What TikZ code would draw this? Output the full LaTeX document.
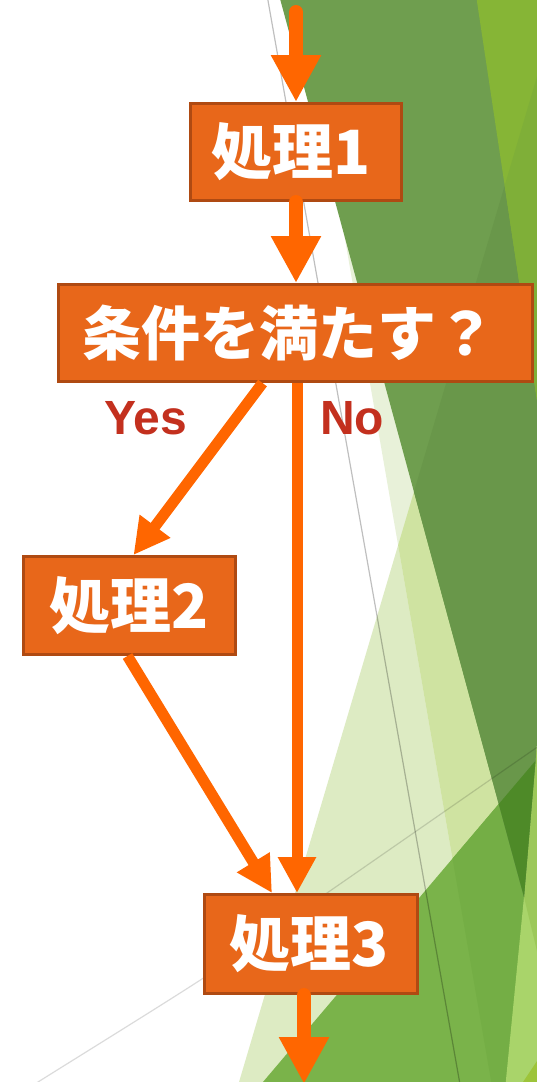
\documentclass[tikz,border=0pt]{standalone}
\usepackage{fontspec}
\newfontfamily\jpfont{Noto Sans CJK JP}
\newfontfamily\ynfont{Liberation Sans}
\usetikzlibrary{arrows.meta}
\definecolor{boxfill}{HTML}{E8671A}
\definecolor{boxborder}{HTML}{AF4A12}
\definecolor{arrowc}{HTML}{FF6600}
\definecolor{lblc}{HTML}{C3301E}
\definecolor{paleA}{HTML}{DDEBC3}
\definecolor{paleB}{HTML}{E8F1D9}
\definecolor{paleAB}{HTML}{CFE3A1}
\definecolor{midg}{HTML}{7AB34A}
\definecolor{midgB}{HTML}{74AE45}
\definecolor{darkg}{HTML}{6F9E4F}
\definecolor{darkgA}{HTML}{69974A}
\definecolor{darkgM}{HTML}{4E8A28}
\definecolor{limeT}{HTML}{86B536}
\definecolor{limeTA}{HTML}{7FAF38}
\definecolor{limeR}{HTML}{A9D46A}
\definecolor{limeRU}{HTML}{9CC85A}
\definecolor{yellowg}{HTML}{9DC43A}
\begin{document}
\begin{tikzpicture}[x=1pt,y=-1pt,
  box/.style={draw=boxborder, fill=boxfill, line width=3pt, inner sep=0pt, text=white,
    font=\jpfont\bfseries\fontsize{61pt}{61pt}\selectfont},
  bigarrow/.style={draw=arrowc, line width=14pt, line cap=round, -{Triangle[width=47pt,length=47pt]}},
  smallarrow/.style={draw=arrowc, line width=11pt, -{Triangle[width=36pt,length=36pt]}},
  lbl/.style={text=lblc, font=\ynfont\bfseries\fontsize{48pt}{48pt}\selectfont, inner sep=0pt, anchor=base}]
\useasboundingbox (0,0) rectangle (536,1082);
% ---------- background facets ----------
\begin{scope}
\clip (-3,-3) rectangle (539,1085);
\fill[white] (-3,-3) rectangle (539,1085);
% pale translucent triangle T1
\fill[paleA] (233.7,1100) -- (559.7,0) -- (700,0) -- (700,1100) -- cycle;
% band T2
\fill[paleB] (303.5,0) -- (494.4,1100) -- (700,1100) -- (700,0) -- cycle;
\begin{scope}
  \clip (233.7,1100) -- (559.7,0) -- (700,0) -- (700,1100) -- cycle;
  \fill[paleAB] (303.5,0) -- (494.4,1100) -- (700,1100) -- (700,0) -- cycle;
\end{scope}
% mid green
\fill[midg] (247.7,1100) -- (587,700) -- (700,700) -- (700,1100) -- cycle;
\begin{scope}
  \clip (247.7,1100) -- (587,700) -- (700,700) -- (700,1100) -- cycle;
  \fill[midgB] (303.5,0) -- (494.4,1100) -- (700,1100) -- (700,0) -- cycle;
\end{scope}
% bottom right lime strip
\fill[limeR] (504,1100) -- (524,897) -- (600,-5) -- (700,-5) -- (700,1100) -- cycle;
\begin{scope}
  \clip (504,1100) -- (524,897) -- (600,-5) -- (700,-5) -- (700,1100) -- cycle;
  \fill[limeRU] (524,897) -- (700,1630) -- (700,-5) -- (600,-5) -- cycle;
\end{scope}
\fill[yellowg] (521,1085) -- (539,1058) -- (539,1085) -- cycle;
% dark green
\fill[darkg] (279,-5) -- (524,897) -- (600,-5) -- cycle;
\begin{scope}
  \clip (279,-5) -- (524,897) -- (600,-5) -- cycle;
  \fill[darkgA] (233.7,1100) -- (559.7,0) -- (700,0) -- (700,1100) -- cycle;
  \fill[darkgM] (247.7,1100) -- (587,700) -- (700,700) -- (700,1100) -- cycle;
\end{scope}
% lime top right
\fill[limeT] (476,-5) -- (552,500) -- (700,500) -- (700,-5) -- cycle;
\begin{scope}
  \clip (476,-5) -- (552,500) -- (700,500) -- (700,-5) -- cycle;
  \fill[limeTA] (233.7,1100) -- (559.7,0) -- (700,0) -- (700,1100) -- cycle;
\end{scope}
% thin grey lines
\draw[black, opacity=0.25, line width=1.2pt] (267,-5) -- (461,1090);
\draw[black, opacity=0.14, line width=1.2pt] plot[smooth] coordinates {(18,1095) (38,1082) (205,977) (327,893) (536,748) (560,732)};
\end{scope}
% ---------- nodes ----------
\node[box, minimum width=211pt, minimum height=97pt] (p1) at (295.5,152) {\kern-9pt 処理1};
\node[box, minimum width=474pt, minimum height=97pt,
      font=\jpfont\bfseries\fontsize{59pt}{59pt}\selectfont] (cond) at (295.5,333) {\kern-14pt 条件を満たす？};
\node[box, minimum width=212pt, minimum height=98pt] (p2) at (129.5,605.5) {処理2};
\node[box, minimum width=213pt, minimum height=99pt] (p3) at (311,944) {\kern-4pt 処理3};
\node[lbl] (yes) at (146,434) {Yes};
\node[lbl] (no) at (352,434) {No};
% ---------- connectors ----------
\coordinate (top) at (296,12);
\coordinate (bot) at (304,1084);
\draw[bigarrow] (top) -- ([xshift=0.5pt]p1.north);
\draw[bigarrow] ([xshift=0.5pt]p1.south) -- ([xshift=0.5pt]cond.north);
\draw[smallarrow] ([xshift=-33pt]cond.south) -- ([xshift=4pt]p2.north);
\draw[smallarrow] ([xshift=1.5pt]cond.south) -- ([xshift=-14pt]p3.north);
\draw[smallarrow] ([xshift=-2pt]p2.south) -- ([xshift=-39pt]p3.north);
\draw[bigarrow] ([xshift=-7pt]p3.south) -- (bot);
\end{tikzpicture}
\end{document}
